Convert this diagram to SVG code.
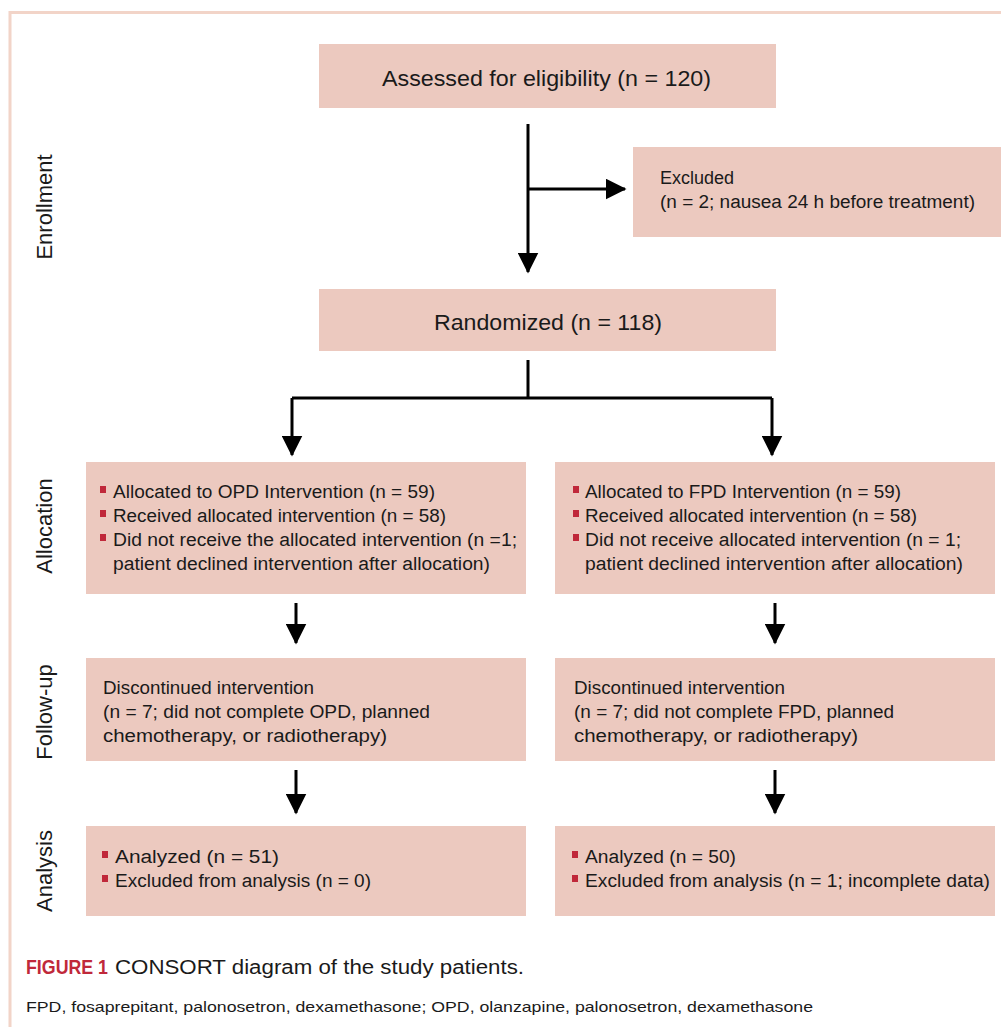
<svg xmlns="http://www.w3.org/2000/svg" width="1001" height="1027" viewBox="0 0 1001 1027">
<style>
.box{fill:#ecc9bf}
.t{font-family:"Liberation Sans",Arial,sans-serif;fill:#1a1a1a;font-size:18px}
.big{font-size:22px}
.side{font-family:"Liberation Sans",Arial,sans-serif;fill:#1a1a1a;font-size:22px;text-anchor:middle}
.ln{stroke:#000;stroke-width:3;fill:none}
.bul{fill:#c0283a}
</style>
<defs>
<marker id="ah" markerWidth="7" markerHeight="7" refX="6.5" refY="3.5" orient="auto" markerUnits="strokeWidth">
<path d="M0,0 L7,3.5 L0,7 Z" fill="#000"/>
</marker>
</defs>
<rect width="1001" height="1027" fill="#fff"/>
<path d="M10,1027 V12.5 H1001" stroke="#f2d4c8" stroke-width="3" fill="none"/>

<g id="labels">
<text class="side" transform="translate(52,207) rotate(-90)">Enrollment</text>
<text class="side" transform="translate(52,526) rotate(-90)">Allocation</text>
<text class="side" transform="translate(52,712) rotate(-90)">Follow-up</text>
<text class="side" transform="translate(52,871) rotate(-90)">Analysis</text>
</g>

<g id="connectors">
<path class="ln" d="M528,124 V272" marker-end="url(#ah)"/>
<path class="ln" d="M528,189 H625" marker-end="url(#ah)"/>
<path class="ln" d="M528,360 V398"/>
<path class="ln" d="M292,398 H772"/>
<path class="ln" d="M292,398 V455" marker-end="url(#ah)"/>
<path class="ln" d="M772,398 V455" marker-end="url(#ah)"/>
<path class="ln" d="M296,603 V643" marker-end="url(#ah)"/>
<path class="ln" d="M775,603 V643" marker-end="url(#ah)"/>
<path class="ln" d="M296,770 V813" marker-end="url(#ah)"/>
<path class="ln" d="M775,770 V813" marker-end="url(#ah)"/>
</g>

<g id="assessed">
<rect class="box" x="319" y="44" width="457" height="64"/>
<text class="t big" x="382" y="86" textLength="329" lengthAdjust="spacingAndGlyphs">Assessed for eligibility (n = 120)</text>
</g>

<g id="excluded">
<rect class="box" x="633" y="147" width="368" height="90"/>
<text class="t" x="660" y="184">Excluded</text>
<text class="t" x="660" y="208" textLength="315" lengthAdjust="spacingAndGlyphs">(n = 2; nausea 24 h before treatment)</text>
</g>

<g id="randomized">
<rect class="box" x="319" y="289" width="457" height="62"/>
<text class="t big" x="434" y="330" textLength="228" lengthAdjust="spacingAndGlyphs">Randomized (n = 118)</text>
</g>

<g id="alloc-opd">
<rect class="box" x="86" y="462" width="440" height="132"/>
<rect class="bul" x="100" y="486" width="6" height="7"/>
<rect class="bul" x="100" y="510" width="6" height="7"/>
<rect class="bul" x="100" y="534" width="6" height="7"/>
<text class="t" x="113" y="498" textLength="322" lengthAdjust="spacingAndGlyphs">Allocated to OPD Intervention (n = 59)</text>
<text class="t" x="113" y="522" textLength="333" lengthAdjust="spacingAndGlyphs">Received allocated intervention (n = 58)</text>
<text class="t" x="113" y="546" textLength="404" lengthAdjust="spacingAndGlyphs">Did not receive the allocated intervention (n =1;</text>
<text class="t" x="113" y="570" textLength="377" lengthAdjust="spacingAndGlyphs">patient declined intervention after allocation)</text>
</g>

<g id="alloc-fpd">
<rect class="box" x="555" y="462" width="440" height="132"/>
<rect class="bul" x="573" y="486" width="6" height="7"/>
<rect class="bul" x="573" y="510" width="6" height="7"/>
<rect class="bul" x="573" y="534" width="6" height="7"/>
<text class="t" x="585" y="498" textLength="316" lengthAdjust="spacingAndGlyphs">Allocated to FPD Intervention (n = 59)</text>
<text class="t" x="585" y="522" textLength="332" lengthAdjust="spacingAndGlyphs">Received allocated intervention (n = 58)</text>
<text class="t" x="585" y="546" textLength="376" lengthAdjust="spacingAndGlyphs">Did not receive allocated intervention (n = 1;</text>
<text class="t" x="585" y="570" textLength="378" lengthAdjust="spacingAndGlyphs">patient declined intervention after allocation)</text>
</g>

<g id="followup-opd">
<rect class="box" x="86" y="658" width="440" height="103"/>
<text class="t" x="103" y="694" textLength="211" lengthAdjust="spacingAndGlyphs">Discontinued intervention</text>
<text class="t" x="103" y="718" textLength="327" lengthAdjust="spacingAndGlyphs">(n = 7; did not complete OPD, planned</text>
<text class="t" x="103" y="742" textLength="284" lengthAdjust="spacingAndGlyphs">chemotherapy, or radiotherapy)</text>
</g>

<g id="followup-fpd">
<rect class="box" x="555" y="658" width="440" height="103"/>
<text class="t" x="574" y="694" textLength="211" lengthAdjust="spacingAndGlyphs">Discontinued intervention</text>
<text class="t" x="574" y="718" textLength="320" lengthAdjust="spacingAndGlyphs">(n = 7; did not complete FPD, planned</text>
<text class="t" x="574" y="742" textLength="284" lengthAdjust="spacingAndGlyphs">chemotherapy, or radiotherapy)</text>
</g>

<g id="analysis-opd">
<rect class="box" x="86" y="826" width="440" height="90"/>
<rect class="bul" x="102" y="851" width="6" height="7"/>
<rect class="bul" x="102" y="875" width="6" height="7"/>
<text class="t" x="115" y="863" textLength="164" lengthAdjust="spacingAndGlyphs">Analyzed (n = 51)</text>
<text class="t" x="115" y="887" textLength="256" lengthAdjust="spacingAndGlyphs">Excluded from analysis (n = 0)</text>
</g>

<g id="analysis-fpd">
<rect class="box" x="555" y="826" width="440" height="90"/>
<rect class="bul" x="572" y="851" width="6" height="7"/>
<rect class="bul" x="572" y="875" width="6" height="7"/>
<text class="t" x="585" y="863" textLength="151" lengthAdjust="spacingAndGlyphs">Analyzed (n = 50)</text>
<text class="t" x="585" y="887" textLength="405" lengthAdjust="spacingAndGlyphs">Excluded from analysis (n = 1; incomplete data)</text>
</g>

<g id="caption">
<text class="t" x="26" y="974" style="font-size:20px"><tspan fill="#c0283a" font-weight="bold" textLength="82" lengthAdjust="spacingAndGlyphs">FIGURE 1</tspan><tspan x="115" textLength="409" lengthAdjust="spacingAndGlyphs">CONSORT diagram of the study patients.</tspan></text>
<text class="t" x="26" y="1012" style="font-size:15px" textLength="787" lengthAdjust="spacingAndGlyphs">FPD, fosaprepitant, palonosetron, dexamethasone; OPD, olanzapine, palonosetron, dexamethasone</text>
</g>
</svg>
